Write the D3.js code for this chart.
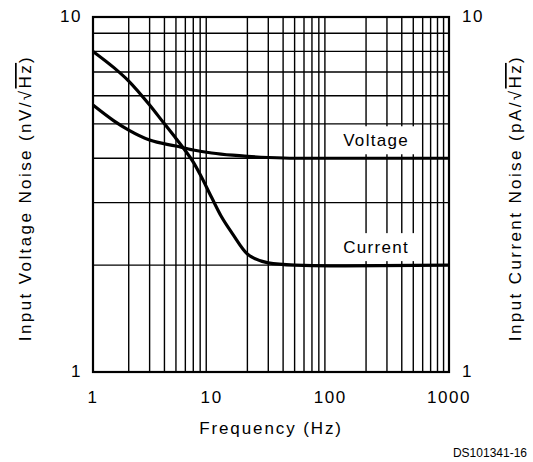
<!DOCTYPE html>
<html>
<head>
<meta charset="utf-8">
<script src="https://cdn.jsdelivr.net/npm/d3@7"></script>
<style>
  html, body { margin: 0; padding: 0; background: #fff; }
  svg { display: block; }
</style>
</head>
<body>
<script>
// Input noise vs frequency

const freqVoltage = [1, 1.5, 2, 3, 5, 7, 10, 15, 20, 30, 50, 100, 1000];
const voltageNoise = [5.65, 5.1, 4.8, 4.5, 4.33, 4.22, 4.14, 4.08, 4.05, 4.02, 4.0, 4.0, 4.0];

const freqCurrent = [1, 1.5, 2, 3, 4, 5, 6, 7, 8, 10, 12, 15, 20, 30, 50, 100, 1000];
const currentNoise = [8.0, 7.2, 6.6, 5.65, 5.0, 4.55, 4.2, 3.9, 3.6, 3.1, 2.75, 2.45, 2.15, 2.03, 2.0, 1.99, 2.0];

const xTicks = [1, 10, 100, 1000];
const yTicks = [1, 10];

const margin = {top: 17, right: 84, left: 93, bottom: 90};
const outerWidth = 533;
const outerHeight = 462;
const innerWidth = outerWidth - margin.left - margin.right;
const innerHeight = outerHeight - margin.top - margin.bottom;

const svg = d3.select("body").append("svg")
    .attr("width", outerWidth)
    .attr("height", outerHeight)
    .attr("font-family", "Liberation Sans, Arial, sans-serif")
    .attr("font-size", 17)
    .attr("fill", "#000");

const g = svg.append("g")
    .attr("transform", "translate(" + margin.left + "," + margin.top + ")");

const x = d3.scaleLog().domain([1, 1000]).range([0, innerWidth]);
const y = d3.scaleLog().domain([1, 10]).range([innerHeight, 0]);

// grid
const xGrid = [];
for (let d = 1; d < 1000; d *= 10) for (let k = 2; k <= 9; k++) xGrid.push(d * k);
const yGrid = [2, 3, 4, 5, 6, 7, 8, 9];

g.selectAll(".vgrid").data(xGrid).join("line")
    .attr("class", "vgrid")
    .attr("x1", d => x(d)).attr("x2", d => x(d))
    .attr("y1", 0).attr("y2", innerHeight)
    .attr("stroke", "#000").attr("stroke-width", 1.4);

g.selectAll(".hgrid").data(yGrid).join("line")
    .attr("class", "hgrid")
    .attr("x1", 0).attr("x2", innerWidth)
    .attr("y1", d => y(d)).attr("y2", d => y(d))
    .attr("stroke", "#000").attr("stroke-width", 1.4);

// white boxes behind the curve labels
const labels = [
  {text: "Voltage", f: 243, v: 4.0, dy: -12},
  {text: "Current", f: 243, v: 2.0, dy: -12}
];

labels.forEach(l => {
  const cx = x(l.f), cy = y(l.v) + l.dy;
  g.append("rect")
      .attr("x", cx - 38).attr("y", cy - 20)
      .attr("width", 76).attr("height", 28)
      .attr("fill", "#fff");
});

const line = d3.line()
    .x(d => x(d[0]))
    .y(d => y(d[1]))
    .curve(d3.curveMonotoneX);

g.append("path")
    .datum(d3.zip(freqVoltage, voltageNoise))
    .attr("d", line)
    .attr("fill", "none").attr("stroke", "#000").attr("stroke-width", 3.2);

g.append("path")
    .datum(d3.zip(freqCurrent, currentNoise))
    .attr("d", line)
    .attr("fill", "none").attr("stroke", "#000").attr("stroke-width", 3.2);

labels.forEach(l => {
  g.append("text")
      .attr("x", x(l.f)).attr("y", y(l.v) + l.dy)
      .attr("text-anchor", "middle")
      .attr("letter-spacing", 1.3)
      .text(l.text);
});

// frame
g.append("rect")
    .attr("width", innerWidth).attr("height", innerHeight)
    .attr("fill", "none").attr("stroke", "#000").attr("stroke-width", 2.2);

// tick labels
g.selectAll(".xlab").data(xTicks).join("text")
    .attr("class", "xlab")
    .attr("x", d => x(d)).attr("y", innerHeight + 31)
    .attr("text-anchor", "middle")
    .attr("letter-spacing", 1.6)
    .text(d => d);

g.selectAll(".ylabL").data(yTicks).join("text")
    .attr("class", "ylabL")
    .attr("x", -11).attr("y", d => y(d) + 5)
    .attr("text-anchor", "end")
    .attr("letter-spacing", 1.6)
    .text(d => d);

g.selectAll(".ylabR").data(yTicks).join("text")
    .attr("class", "ylabR")
    .attr("x", innerWidth + 13).attr("y", d => y(d) + 5)
    .attr("text-anchor", "start")
    .attr("letter-spacing", 1.6)
    .text(d => d);

// axis titles
svg.append("text")
    .attr("x", margin.left + innerWidth / 2).attr("y", 434)
    .attr("text-anchor", "middle")
    .attr("letter-spacing", 1.9)
    .text("Frequency (Hz)");

function sideTitle(tx, label, unit) {
  const t = svg.append("text")
      .attr("transform", "translate(" + tx + ",198) rotate(-90)")
      .attr("text-anchor", "middle")
      .attr("letter-spacing", 2.4);
  t.append("tspan").text(label + " (" + unit + "/√");
  t.append("tspan").attr("text-decoration", "overline").text("Hz");
  t.append("tspan").text(")");
}
sideTitle(31, "Input Voltage Noise", "nV");
sideTitle(521, "Input Current Noise", "pA");

svg.append("text")
    .attr("x", 527).attr("y", 457)
    .attr("text-anchor", "end")
    .attr("font-size", 12)
    .text("DS101341-16");
</script>
</body>
</html>
